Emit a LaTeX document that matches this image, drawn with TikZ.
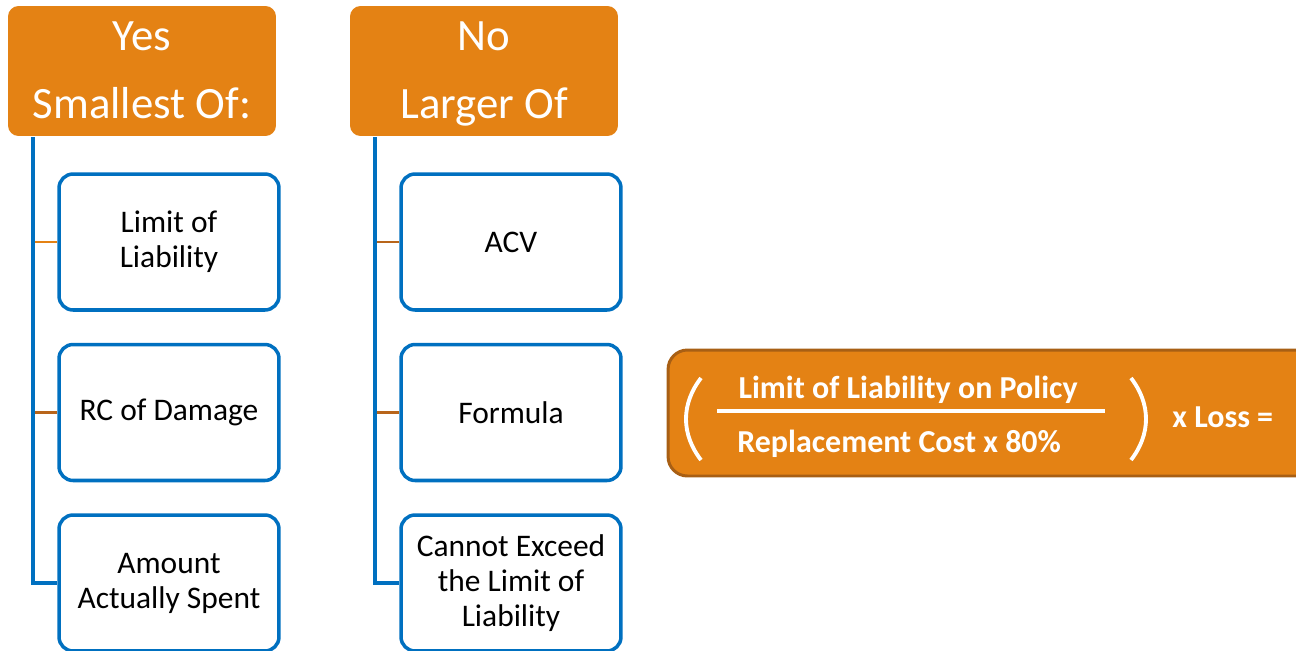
\documentclass[tikz,border=0pt]{standalone}
\usepackage{fontspec}
\setmainfont{Carlito}
\definecolor{hdorange}{HTML}{E48214}
\definecolor{twigbrown}{HTML}{B8651A}
\definecolor{boxblue}{HTML}{0070C0}
\definecolor{frameedge}{HTML}{A85F14}
\tikzset{
    headbox/.style={
        fill=hdorange, rounded corners=6pt, inner sep=0pt,
        minimum width=5.36cm, minimum height=2.6cm
    },
    headtext/.style={
        text=white, align=center, inner sep=0pt,
        font=\fontsize{25.5}{38.7}\selectfont
    },
    itembox/.style={
        draw=boxblue, line width=2pt, fill=white, rounded corners=8pt,
        inner sep=0pt, minimum width=4.4cm, minimum height=2.72cm,
        align=center, font=\fontsize{17.9}{19.9}\selectfont
    },
    trunk/.style={draw=boxblue, line width=2pt},
    twig/.style={draw=twigbrown, line width=1.2pt},
    formulabox/.style={
        fill=hdorange, draw=frameedge, line width=1.7pt, rounded corners=11pt,
        inner sep=0pt, minimum width=13.04cm, minimum height=2.52cm
    },
    formtext/.style={
        text=white, inner sep=0pt,
        font=\fontsize{18.2}{22}\selectfont\bfseries
    }
}
\begin{document}
\begin{tikzpicture}[x=0.02cm, y=-0.02cm]
    \useasboundingbox (0,0) rectangle (1296,650);

    % Yes column
    \node[headbox] (yes) at (142,71) {};
    \node[headtext, anchor=base] (yestext) at (142,118) {Yes\\Smallest Of:};
    \coordinate (ytop) at (33,137);
    \node[itembox] (ylimit) at (169,242) {Limit of\\Liability};
    \node[itembox] (yrc) at (169,412.5) {RC of Damage};
    \node[itembox] (yspent) at (169,583) {Amount\\Actually Spent};
    \draw[twig, hdorange] (ytop |- ylimit.west) -- (ylimit.west);
    \draw[twig] (ytop |- yrc.west) -- (yrc.west);
    \draw[trunk] (ytop) |- (yspent.west);

    % No column
    \node[headbox] (no) at (484,71) {};
    \node[headtext, anchor=base] (notext) at (484,118) {No\\Larger Of};
    \coordinate (ntop) at (375,137);
    \node[itembox] (nacv) at (511,242) {ACV};
    \node[itembox] (nformula) at (511,412.5) {Formula};
    \node[itembox] (nexceed) at (511,583) {Cannot Exceed\\the Limit of\\Liability};
    \draw[twig] (ntop |- nacv.west) -- (nacv.west);
    \draw[twig] (ntop |- nformula.west) -- (nformula.west);
    \draw[trunk] (ntop) |- (nexceed.west);

    % Formula
    \node[formulabox] (calc) at (994,413) {};
    \node[formtext, anchor=base] (num) at (908,398) {Limit of Liability on Policy};
    \node[formtext, anchor=base west] (den) at (737,452) {Replacement Cost x 80\%};
    \node[formtext, anchor=base west] (loss) at (1172,427) {x Loss =};
    \draw[white, line width=2.8pt] (717,411) -- (1105,411);
    \draw[white, line width=2.2pt] (701,378) .. controls (681,404) and (681,434) .. (701,460);
    \draw[white, line width=2.2pt] (1131,378) .. controls (1151,404) and (1151,434) .. (1131,460);
\end{tikzpicture}
\end{document}
